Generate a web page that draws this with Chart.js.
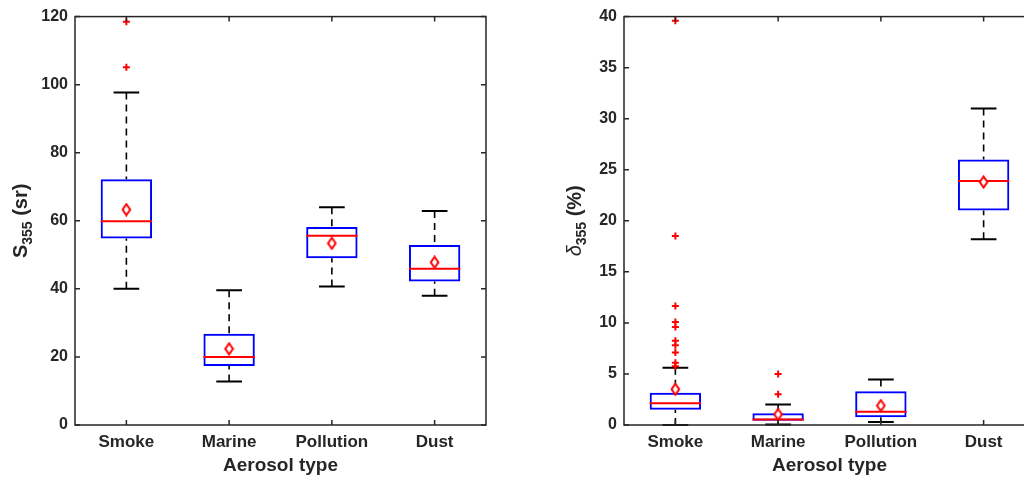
<!DOCTYPE html>
<html>
<head>
<meta charset="utf-8">
<script src="https://cdn.jsdelivr.net/npm/chart.js@4.4.1/dist/chart.umd.min.js"></script>
<style>
html, body { margin: 0; padding: 0; background: #fff; overflow: hidden; width: 1024px; height: 478px; }
#wrapL { position: absolute; left: 0; top: 0; }
#wrapR { position: absolute; left: 512px; top: 0; }
</style>
</head>
<body>
<div id="wrapL"><canvas id="leftChart" width="512" height="478"></canvas></div>
<div id="wrapR"><canvas id="rightChart" width="540" height="478"></canvas></div>
<script>
// categories shared by both panels
const categories = ['Smoke', 'Marine', 'Pollution', 'Dust'];

// left panel: lidar ratio S355 (sr)
const sLow = [40.0, 12.8, 40.7, 38.0];
const sQ1 = [54.8, 17.3, 49.0, 42.2];
const sMedian = [59.9, 20.0, 55.6, 45.9];
const sQ3 = [72.2, 26.8, 58.2, 52.9];
const sHigh = [97.7, 39.6, 64.0, 62.9];
const sMean = [63.3, 22.4, 53.4, 47.8];
const sOutliers = [[118.5, 105.1], [], [], []];

// right panel: depolarization ratio delta355 (%)
const dLow = [0.0, 0.05, 0.3, 18.2];
const dQ1 = [1.5, 0.42, 0.75, 21.0];
const dMedian = [2.14, 0.55, 1.3, 23.9];
const dQ3 = [3.15, 1.15, 3.3, 26.0];
const dHigh = [5.6, 2.0, 4.45, 31.0];
const dMean = [3.5, 1.04, 1.9, 23.8];
const dOutliers = [[39.6, 18.5, 11.65, 10.1, 9.6, 8.25, 7.8, 7.1, 6.1, 5.75, 3.6, 3.4], [5.0, 3.0], [], []];

// tick labels
const sTicks = [0, 20, 40, 60, 80, 100, 120];
const dTicks = [0, 5, 10, 15, 20, 25, 30, 35, 40];

const FONT = 'Arial, "Liberation Sans", Helvetica, sans-serif';
const INK = '#262626';
Chart.defaults.font.family = FONT;
Chart.defaults.color = INK;

// hollow red diamond used for the means
function diamondMarker() {
    const c = document.createElement('canvas');
    c.width = 11; c.height = 14;
    const g = c.getContext('2d');
    g.beginPath();
    g.moveTo(5.5, 1.5); g.lineTo(9.3, 7); g.lineTo(5.5, 12.5); g.lineTo(1.7, 7); g.closePath();
    g.fillStyle = '#fff'; g.fill();
    g.strokeStyle = '#ff0000'; g.lineWidth = 2; g.stroke();
    return c;
}
const diamond = diamondMarker();

// whiskers, caps and medians, drawn right after the boxes
const boxParts = {
    id: 'boxParts',
    afterDatasetDraw(chart, args, opts) {
        if (args.index !== 2) return;
        const {ctx} = chart;
        const x = chart.scales.x, y = chart.scales.y;
        const step = x.getPixelForValue(1) - x.getPixelForValue(0);
        ctx.save();
        opts.low.forEach((lo, i) => {
            const cx = x.getPixelForValue(i);
            ctx.strokeStyle = '#000';
            ctx.lineWidth = 1.6;
            ctx.setLineDash([7, 5]);
            ctx.beginPath();
            ctx.moveTo(cx, y.getPixelForValue(opts.high[i]));
            ctx.lineTo(cx, y.getPixelForValue(opts.q3[i]));
            ctx.moveTo(cx, y.getPixelForValue(lo));
            ctx.lineTo(cx, y.getPixelForValue(opts.q1[i]));
            ctx.stroke();
            ctx.setLineDash([]);
            ctx.lineWidth = 2;
            const cap = step * 0.125;
            ctx.beginPath();
            ctx.moveTo(cx - cap, y.getPixelForValue(opts.high[i]));
            ctx.lineTo(cx + cap, y.getPixelForValue(opts.high[i]));
            ctx.moveTo(cx - cap, y.getPixelForValue(lo));
            ctx.lineTo(cx + cap, y.getPixelForValue(lo));
            ctx.stroke();
            const half = step * 0.25;
            ctx.strokeStyle = '#ff0000';
            ctx.beginPath();
            ctx.moveTo(cx - half, y.getPixelForValue(opts.median[i]));
            ctx.lineTo(cx + half, y.getPixelForValue(opts.median[i]));
            ctx.stroke();
        });
        ctx.restore();
    }
};

// box frame with inward ticks on all four sides, plus the y title with subscript
const frame = {
    id: 'frame',
    afterDraw(chart, args, opts) {
        const {ctx, chartArea: a} = chart;
        const x = chart.scales.x, y = chart.scales.y;
        ctx.save();
        ctx.strokeStyle = INK;
        ctx.lineWidth = 1.5;
        ctx.strokeRect(a.left, a.top, a.right - a.left, a.bottom - a.top);
        ctx.beginPath();
        y.ticks.forEach(t => {
            const py = y.getPixelForValue(t.value);
            ctx.moveTo(a.left, py); ctx.lineTo(a.left + 5, py);
            ctx.moveTo(a.right, py); ctx.lineTo(a.right - 5, py);
        });
        categories.forEach((c, i) => {
            const px = x.getPixelForValue(i);
            ctx.moveTo(px, a.bottom); ctx.lineTo(px, a.bottom - 5);
            ctx.moveTo(px, a.top); ctx.lineTo(px, a.top + 5);
        });
        ctx.stroke();

        // y title
        const t = opts.title;
        ctx.translate(t.x, (a.top + a.bottom) / 2);
        ctx.rotate(-Math.PI / 2);
        ctx.fillStyle = INK;
        ctx.textBaseline = 'alphabetic';
        const f1 = (t.italic ? 'italic ' : 'bold ') + '20px ' + FONT;
        const f2 = 'bold 14px ' + FONT;
        const f3 = 'bold 20px ' + FONT;
        ctx.font = f1; const w1 = ctx.measureText(t.main).width;
        ctx.font = f2; const w2 = ctx.measureText(t.sub).width;
        ctx.font = f3; const w3 = ctx.measureText(t.rest).width;
        let px = -(w1 + w2 + w3) / 2;
        ctx.font = f1; ctx.fillText(t.main, px, 7); px += w1;
        ctx.font = f2; ctx.fillText(t.sub, px, 12); px += w2;
        ctx.font = f3; ctx.fillText(t.rest, px, 7);
        ctx.restore();
    }
};

function buildChart(id, low, q1, median, q3, high, mean, outliers, ticks, yWidth, padRight, title) {
    const outPts = [];
    outliers.forEach((list, i) => list.forEach(v => outPts.push({x: categories[i], y: v})));
    return new Chart(document.getElementById(id), {
        type: 'bar',
        data: {
            labels: categories,
            datasets: [
                {
                    type: 'scatter',
                    data: mean.map((v, i) => ({x: categories[i], y: v})),
                    pointStyle: diamond,
                    order: 1
                },
                {
                    type: 'scatter',
                    data: outPts,
                    pointStyle: 'cross',
                    radius: 3.5,
                    borderWidth: 2,
                    borderColor: '#ff0000',
                    order: 2
                },
                {
                    data: q1.map((v, i) => [v, q3[i]]),
                    backgroundColor: 'rgba(0,0,0,0)',
                    borderColor: '#0000ff',
                    borderWidth: 2,
                    borderSkipped: false,
                    categoryPercentage: 1,
                    barPercentage: 0.5,
                    order: 3
                }
            ]
        },
        options: {
            responsive: false,
            animation: false,
            events: [],
            layout: {padding: {left: 0, top: 14, right: padRight, bottom: 0}},
            plugins: {
                legend: {display: false},
                tooltip: {enabled: false},
                boxParts: {low, q1, median, q3, high},
                frame: {title}
            },
            scales: {
                x: {
                    type: 'category',
                    offset: true,
                    grid: {display: false, drawTicks: false},
                    border: {display: false},
                    ticks: {padding: 7, font: {size: 17, weight: 'bold'}, color: INK},
                    title: {display: true, text: 'Aerosol type', font: {size: 19, weight: 'bold'}, color: INK, padding: {top: 0, bottom: 1}},
                    afterFit: s => { s.height = 53; }
                },
                y: {
                    min: ticks[0],
                    max: ticks[ticks.length - 1],
                    afterBuildTicks: s => { s.ticks = ticks.map(v => ({value: v})); },
                    grid: {display: false, drawTicks: false},
                    border: {display: false},
                    ticks: {padding: 7, font: {size: 16, weight: 'bold'}, color: INK},
                    afterFit: s => { s.width = yWidth; }
                }
            }
        },
        plugins: [boxParts, frame]
    });
}

buildChart('leftChart', sLow, sQ1, sMedian, sQ3, sHigh, sMean, sOutliers, sTicks, 75, 26,
    {x: 20, main: 'S', sub: '355', rest: ' (sr)', italic: false});
buildChart('rightChart', dLow, dQ1, dMedian, dQ3, dHigh, dMean, dOutliers, dTicks, 112, 17,
    {x: 62, main: '\u03B4', sub: '355', rest: ' (%)', italic: true});
</script>
</body>
</html>
